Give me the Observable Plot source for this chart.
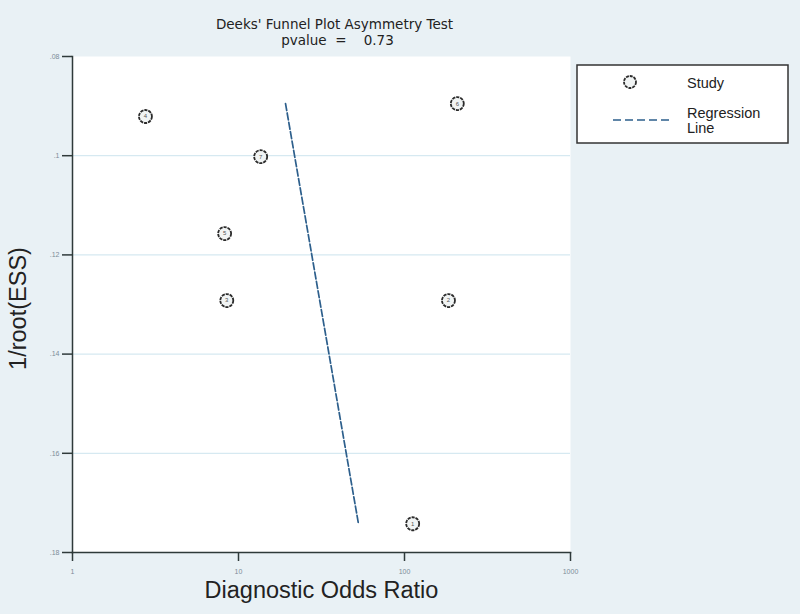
<!DOCTYPE html>
<html>
<head>
<meta charset="utf-8">
<script src="https://cdn.jsdelivr.net/npm/d3@7"></script>
<script src="https://cdn.jsdelivr.net/npm/@observablehq/plot@0.6"></script>
<style>
  html, body { margin: 0; padding: 0; background: #e9f1f5; }
  #chart { width: 800px; height: 614px; }
  svg { display: block; }
</style>
</head>
<body>
<div id="chart"></div>
<script>
// ---- data ----
const studyIds = ["4", "7", "5", "3", "6", "2", "1"];
const studyDOR = [2.75, 13.6, 8.25, 8.5, 208, 184, 112];
const studyInvRootESS = [0.0921, 0.1002, 0.1157, 0.1292, 0.0895, 0.1292, 0.1742];

const regDOR = [19.2, 52.8];
const regInvRootESS = [0.0895, 0.1742];

const xTicks = [1, 10, 100, 1000];
const xTickLabels = ["1", "10", "100", "1000"];
const yTicks = [0.08, 0.10, 0.12, 0.14, 0.16, 0.18];
const yTickLabels = [".08", ".1", ".12", ".14", ".16", ".18"];
const gridTicks = [0.10, 0.12, 0.14, 0.16];

const titleText = "Deeks' Funnel Plot Asymmetry Test";
const pvalueText = "pvalue\u00a0\u00a0=\u00a0\u00a0\u00a0\u00a00.73";
const xLabel = "Diagnostic Odds Ratio";
const yLabel = "1/root(ESS)";
const legendLabels = ["Study", "Regression", "Line"];

// ---- tables ----
const studies = studyIds.map((id, i) => ({id, dor: studyDOR[i], y: studyInvRootESS[i]}));
const reg = regDOR.map((d, i) => ({dor: d, y: regInvRootESS[i]}));

const axisColor = "#2f3a3a";
const tickText = "#7d8c98";
const font = "'Liberation Sans', Arial, sans-serif";
const titleFont = "'DejaVu Sans', sans-serif";

const plot = Plot.plot({
  width: 800,
  height: 614,
  marginLeft: 72,
  marginRight: 230,
  marginTop: 56,
  marginBottom: 62,
  style: {background: "#e9f1f5", fontFamily: font},
  x: {type: "log", domain: [1, 1000]},
  y: {domain: [0.08, 0.18], reverse: true},
  marks: [
    Plot.frame({fill: "white", stroke: null}),
    Plot.ruleY(gridTicks, {stroke: "#d6e9f1", strokeWidth: 1.2}),
    Plot.axisY({
      ticks: yTicks,
      tickFormat: (d) => yTickLabels[yTicks.findIndex(t => Math.abs(t - d) < 1e-9)],
      tickSize: 10, tickPadding: 3, fontSize: 7, stroke: axisColor, strokeWidth: 1.5,
      color: tickText, label: null
    }),
    Plot.axisX({
      ticks: xTicks,
      tickFormat: (d) => xTickLabels[xTicks.indexOf(d)],
      tickSize: 9, tickPadding: 8, fontSize: 7, stroke: axisColor, strokeWidth: 1.5,
      color: tickText, label: null
    }),
    Plot.frame({anchor: "left", stroke: axisColor, strokeWidth: 1.5}),
    Plot.frame({anchor: "bottom", stroke: axisColor, strokeWidth: 1.5}),
    Plot.line(reg, {x: "dor", y: "y", stroke: "#2d5f8c", strokeWidth: 1.7, strokeDasharray: "7,2.5"}),
    Plot.dot(studies, {x: "dor", y: "y", r: 6.5, fill: "#f1f4f4", stroke: "#2b2b2b", strokeWidth: 1.8, strokeDasharray: "3.2,0.9"}),
    Plot.text(studies, {x: "dor", y: "y", text: "id", fontSize: 6, fill: "#555"}),
    Plot.text([titleText], {frameAnchor: "top", dx: 13, dy: -37, fontSize: 13.5, fontFamily: titleFont, fill: "#222"}),
    Plot.text([pvalueText], {frameAnchor: "top", dx: 16, dy: -21, fontSize: 13.5, fontFamily: titleFont, fill: "#222"}),
    Plot.text([xLabel], {frameAnchor: "bottom", dy: 45, fontSize: 23.5, fill: "#222"}),
    Plot.text([yLabel], {frameAnchor: "left", dx: -54, dy: 4, rotate: -90, textAnchor: "middle", fontSize: 23.5, fill: "#222"})
  ]
});

// ---- legend drawn into the same svg ----
const svg = d3.select(plot);
const lg = svg.append("g").attr("font-family", font).attr("font-size", 14.5)
  .attr("fill", "#222").attr("text-anchor", "start");
lg.append("rect").attr("x", 577).attr("y", 65).attr("width", 211).attr("height", 78)
  .attr("fill", "white").attr("stroke", "#333").attr("stroke-width", 1.5);
lg.append("circle").attr("cx", 630).attr("cy", 82).attr("r", 6)
  .attr("fill", "#f1f4f4").attr("stroke", "#2b2b2b").attr("stroke-width", 1.8).attr("stroke-dasharray", "3,0.9");
lg.append("line").attr("x1", 613).attr("x2", 673).attr("y1", 120).attr("y2", 120)
  .attr("stroke", "#2d5f8c").attr("stroke-width", 1.7).attr("stroke-dasharray", "8,4");
lg.append("text").attr("x", 687).attr("y", 88).text(legendLabels[0]);
lg.append("text").attr("x", 687).attr("y", 118).text(legendLabels[1]);
lg.append("text").attr("x", 687).attr("y", 133).text(legendLabels[2]);

document.getElementById("chart").appendChild(plot);
</script>
</body>
</html>
